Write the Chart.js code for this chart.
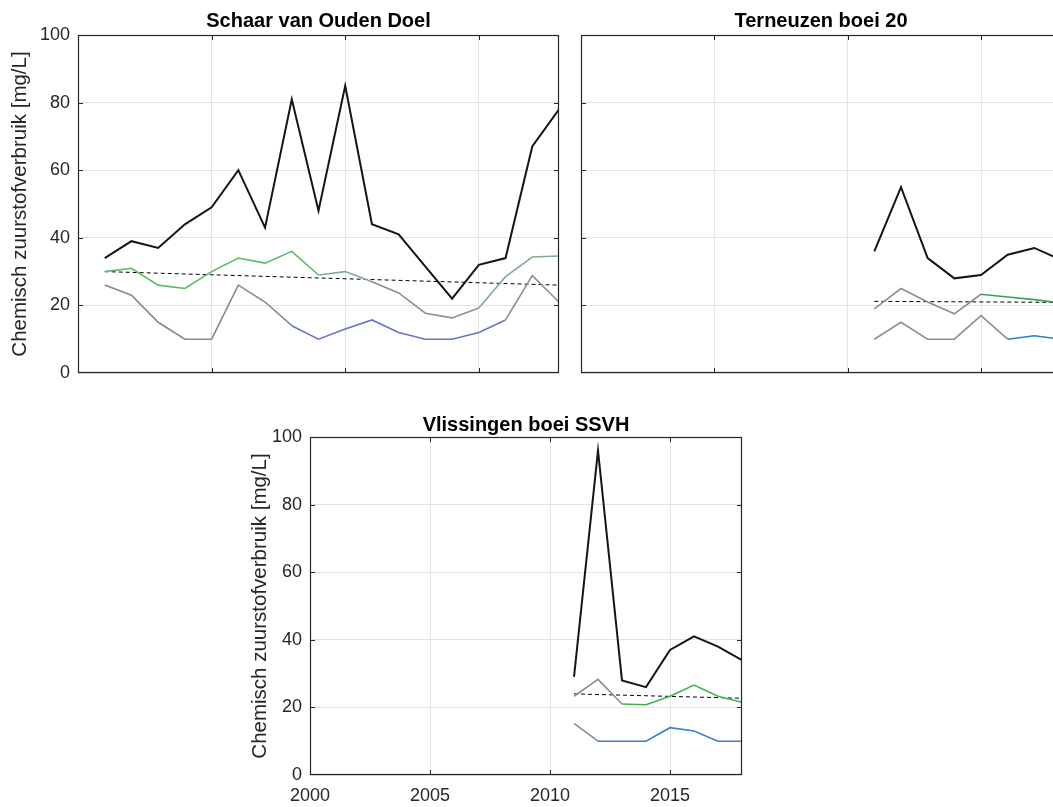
<!DOCTYPE html>
<html>
<head>
<meta charset="utf-8">
<script src="https://cdn.jsdelivr.net/npm/chart.js@4/dist/chart.umd.min.js"></script>
<style>
  html, body { margin: 0; padding: 0; background: #fff; overflow: hidden; width: 1053px; height: 807px; }
  canvas { position: absolute; }
</style>
</head>
<body>
<canvas id="schaar" width="570" height="395" style="left:0;top:0"></canvas>
<canvas id="terneuzen" width="500" height="395" style="left:570px;top:0"></canvas>
<canvas id="vlissingen" width="530" height="412" style="left:230px;top:395px"></canvas>
<script>
// --- data ---
var schaarYears = [2001, 2002, 2003, 2004, 2005, 2006, 2007, 2008, 2009, 2010, 2011, 2012, 2013, 2014, 2015, 2016, 2017, 2018];
var schaarMax = [34, 39, 37, 44, 49, 60, 43, 81, 48, 85, 44, 41, 31.5, 22, 32, 34, 67, 78];
var schaarMid = [30, 31, 26, 25, 30, 34, 32.5, 36, 29, 30, 27, 23.7, 17.7, 16.3, 19.2, 28.5, 34.3, 34.6];
var schaarMin = [26, 23, 15, 10, 10, 26, 21, 14, 10, 13, 15.7, 12, 10, 10, 12, 15.7, 28.8, 21];
var schaarTrend = [30, 26];

var terneuzenYears = [2011, 2012, 2013, 2014, 2015, 2016, 2017, 2018];
var terneuzenMax = [36, 55, 34, 28, 29, 35, 37, 33.5];
var terneuzenMid = [19, 25, 21, 17.5, 23.3, 22.5, 21.7, 20.7];
var terneuzenMin = [10, 15, 10, 10, 17, 10, 11, 10];
var terneuzenTrend = [21.2, 20.9];

var vlissingenYears = [2011, 2012, 2013, 2014, 2015, 2016, 2017, 2018];
var vlissingenMax = [29, 96, 28, 26, 37, 41, 38, 34];
var vlissingenMid = [23.3, 28.3, 21, 20.8, 23.3, 26.6, 23.3, 21.5];
var vlissingenMin = [15.3, 10, 10, 10, 14, 13, 10, 10];
var vlissingenTrend = [24, 22.7];

var xTicks = [2000, 2005, 2010, 2015];
var yTicks = [0, 20, 40, 60, 80, 100];
var yTitle = 'Chemisch zuurstofverbruik [mg/L]';

// --- styles ---
var GREY = '#8e8e8e', GREEN = '#5db865', GGREEN = '#87aa8c', BLUE = '#3a80c8', VBLUE = '#6676c6', GBLUE = '#7f8b98';
function fill(n, c) { var a = []; for (var i = 0; i < n; i++) a.push(c); return a; }
var schaarMidSeg = fill(8, GREEN).concat(fill(2, GGREEN), fill(4, GREY), fill(3, GGREEN));
var schaarMinSeg = fill(7, GBLUE).concat(fill(8, VBLUE), fill(2, GREY));
var terneuzenMidSeg = fill(4, GREY).concat(fill(3, '#3f9f60'));
var terneuzenMinSeg = fill(5, GREY).concat(fill(2, '#2f7fc1'));
var vlissingenMidSeg = fill(2, GREY).concat(fill(5, '#3fb34a'));
var vlissingenMinSeg = fill(1, GREY).concat(fill(6, BLUE));

Chart.defaults.font.family = '"Liberation Sans", Arial, Helvetica, sans-serif';
Chart.defaults.color = '#262626';

function pts(xs, ys) { return xs.map(function (x, i) { return { x: x, y: ys[i] }; }); }

// box round the plot area with inward tick marks (MATLAB look)
var matlabBox = {
  id: 'matlabBox',
  afterDatasetsDraw: function (chart) {
    var ctx = chart.ctx, a = chart.chartArea, sx = chart.scales.x, sy = chart.scales.y;
    ctx.save();
    ctx.strokeStyle = '#262626';
    ctx.lineWidth = 1.2;
    ctx.strokeRect(Math.round(a.left) + 0.5, Math.round(a.top) + 0.5, Math.round(a.width) - 1, Math.round(a.height) - 1);
    ctx.lineWidth = 1;
    ctx.beginPath();
    sx.ticks.forEach(function (t) {
      var p = Math.round(sx.getPixelForValue(t.value)) + 0.5;
      if (p <= a.left + 1 || p >= a.right - 1) return;
      ctx.moveTo(p, a.bottom); ctx.lineTo(p, a.bottom - 5);
      ctx.moveTo(p, a.top); ctx.lineTo(p, a.top + 5);
    });
    sy.ticks.forEach(function (t) {
      var p = Math.round(sy.getPixelForValue(t.value)) + 0.5;
      if (p <= a.top + 1 || p >= a.bottom - 1) return;
      ctx.moveTo(a.left, p); ctx.lineTo(a.left + 5, p);
      ctx.moveTo(a.right, p); ctx.lineTo(a.right - 5, p);
    });
    ctx.stroke();
    ctx.restore();
  }
};

function makeChart(id, title, years, maxV, midV, minV, trend, midSeg, minSeg, o) {
  return new Chart(document.getElementById(id), {
    type: 'line',
    data: {
      datasets: [
        { label: 'max', data: pts(years, maxV), borderColor: '#151515', borderWidth: 2 },
        { label: 'gemiddeld', data: pts(years, midV), borderColor: GREEN, borderWidth: 1.6,
          segment: { borderColor: function (c) { return midSeg[c.p0DataIndex]; } } },
        { label: 'min', data: pts(years, minV), borderColor: BLUE, borderWidth: 1.6,
          segment: { borderColor: function (c) { return minSeg[c.p0DataIndex]; } } },
        { label: 'trend', data: pts([years[0], years[years.length - 1]], trend), borderColor: '#000',
          borderWidth: 1, borderDash: [4, 3] }
      ]
    },
    options: {
      responsive: false,
      animation: false,
      events: [],
      layout: { padding: { left: 0, right: o.padRight, top: 0, bottom: 0 } },
      elements: { point: { radius: 0 }, line: { tension: 0 } },
      plugins: {
        legend: { display: false },
        tooltip: { enabled: false },
        title: {
          display: true, text: title, fullSize: false, color: '#000',
          font: { size: 20, weight: 'bold' },
          padding: { top: o.titleTop, bottom: o.titleBottom }
        }
      },
      scales: {
        x: {
          type: 'linear', min: 2000, max: 2018,
          afterBuildTicks: function (s) { s.ticks = xTicks.map(function (v) { return { value: v }; }); },
          ticks: { display: o.xLabels, font: { size: 18 }, padding: 10, maxRotation: 0,
                   callback: function (v) { return String(v); } },
          grid: { color: '#e4e4e4', drawTicks: false },
          border: { display: false },
          afterFit: function (s) { s.height = o.xHeight; }
        },
        y: {
          min: 0, max: 100,
          afterBuildTicks: function (s) { s.ticks = yTicks.map(function (v) { return { value: v }; }); },
          ticks: { display: o.yLabels, font: { size: 18 }, padding: 8 },
          grid: { color: '#e4e4e4', drawTicks: false },
          border: { display: false },
          title: { display: o.yLabels, text: yTitle, font: { size: 20.5 }, color: '#262626',
                   padding: { top: o.yTitlePad, bottom: 0 } },
          afterFit: function (s) { s.width = o.yWidth; }
        }
      }
    },
    plugins: [matlabBox]
  });
}

makeChart('schaar', 'Schaar van Ouden Doel', schaarYears, schaarMax, schaarMid, schaarMin, schaarTrend,
  schaarMidSeg, schaarMinSeg,
  { padRight: 11, titleTop: 9, titleBottom: 2, xLabels: false, xHeight: 22, yLabels: true, yWidth: 78, yTitlePad: 8 });

makeChart('terneuzen', 'Terneuzen boei 20', terneuzenYears, terneuzenMax, terneuzenMid, terneuzenMin, terneuzenTrend,
  terneuzenMidSeg, terneuzenMinSeg,
  { padRight: 9, titleTop: 9, titleBottom: 2, xLabels: false, xHeight: 22, yLabels: false, yWidth: 11, yTitlePad: 0 });

makeChart('vlissingen', 'Vlissingen boei SSVH', vlissingenYears, vlissingenMax, vlissingenMid, vlissingenMin, vlissingenTrend,
  vlissingenMidSeg, vlissingenMinSeg,
  { padRight: 18, titleTop: 18, titleBottom: 0, xLabels: true, xHeight: 32, yLabels: true, yWidth: 80, yTitlePad: 18 });
</script>
</body>
</html>
